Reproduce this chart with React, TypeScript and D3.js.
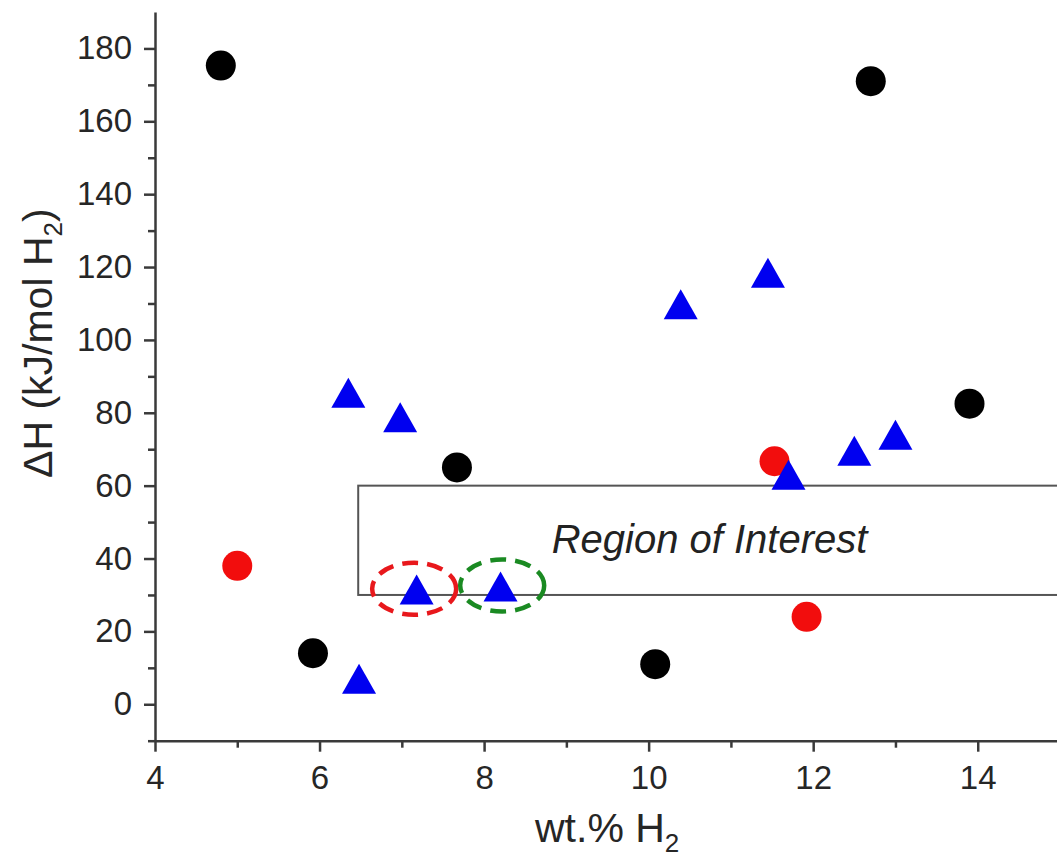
import React, { useEffect, useRef } from 'react'
import * as d3 from 'd3'

// wt.% H2 vs dH (kJ/mol H2)
const blackX = [4.8, 12.7, 13.9, 7.67, 5.92, 10.08]
const blackY = [175.3, 171, 82.5, 65, 14, 11]

const redX = [5.0, 11.53, 11.92]
const redY = [38, 66.7, 24]

const blueX = [6.35, 6.98, 10.39, 11.45, 11.7, 12.5, 13.0, 7.18, 8.2, 6.48]
const blueY = [85.5, 78.8, 109.8, 118.4, 63, 69.6, 74, 31.5, 32.3, 7]

const xTicks = [4, 6, 8, 10, 12, 14]
const yTicks = [0, 20, 40, 60, 80, 100, 120, 140, 160, 180]

// region of interest box
const regionX = [6.47, 15.3]
const regionY = [30, 60]

// dashed ellipses around the two marked triangles
const markX = [7.15, 8.22]
const markY = [31.7, 32.6]
const markColor = ['#e8181c', '#1a8a22']

const FONT = "'Liberation Sans', Arial, sans-serif"

export default function App() {
  const ref = useRef<SVGSVGElement>(null)

  useEffect(() => {
    const w = 1057
    const h = 857
    const left = 155, right = 1060, top = 12, bottom = 740.7

    const svg = d3.select(ref.current).attr('width', w).attr('height', h)
    svg.selectAll('*').remove()

    const x = d3.scaleLinear().domain([4, 15]).range([left, right])
    const y = d3.scaleLinear().domain([-10, 190]).range([bottom, top])

    const axisCol = '#3a3a3a'

    // x axis
    const xg = svg.append('g').attr('transform', `translate(0, ${bottom})`)
    xg.call(d3.axisBottom(x).tickValues(xTicks).tickSize(11).tickSizeOuter(0).tickPadding(14).tickFormat(d3.format('d')))
    const xm = svg.append('g').attr('transform', `translate(0, ${bottom})`)
    xm.call(d3.axisBottom(x).tickValues([5, 7, 9, 11, 13]).tickSize(7).tickFormat(() => ''))
    xm.select('.domain').remove()

    // y axis
    const yg = svg.append('g').attr('transform', `translate(${left}, 0)`)
    yg.call(d3.axisLeft(y).tickValues(yTicks).tickSize(11).tickSizeOuter(0).tickPadding(12).tickFormat(d3.format('d')))
    const ym = svg.append('g').attr('transform', `translate(${left}, 0)`)
    ym.call(d3.axisLeft(y).tickValues([-10, 10, 30, 50, 70, 90, 110, 130, 150, 170]).tickSize(7).tickFormat(() => ''))
    ym.select('.domain').remove()

    svg.selectAll('.domain').attr('stroke', axisCol).attr('stroke-width', 2.5)
    svg.selectAll('.tick line').attr('stroke', axisCol).attr('stroke-width', 2.5)
    svg.selectAll('.tick text').attr('font-family', FONT).attr('font-size', 33).attr('fill', '#262626')

    // axis titles
    const xt = svg.append('text').attr('x', 535).attr('y', 842)
      .attr('font-family', FONT).attr('font-size', 41).attr('fill', '#262626')
    xt.append('tspan').text('wt.% H')
    xt.append('tspan').attr('font-size', 26).attr('dy', 10).text('2')

    const yt = svg.append('text').attr('transform', 'translate(52, 478) rotate(-90)')
      .attr('font-family', FONT).attr('font-size', 41).attr('fill', '#262626')
    yt.append('tspan').text('\u0394H (kJ/mol H')
    yt.append('tspan').attr('font-size', 26).attr('dy', 10).text('2')
    yt.append('tspan').attr('dy', -10).text(')')

    // region box
    svg.append('rect')
      .attr('x', x(regionX[0])).attr('y', y(regionY[1]))
      .attr('width', x(regionX[1]) - x(regionX[0])).attr('height', y(regionY[0]) - y(regionY[1]))
      .attr('fill', 'none').attr('stroke', '#555').attr('stroke-width', 2)
    svg.append('text').attr('x', x(10.74)).attr('y', y(41.5)).attr('text-anchor', 'middle')
      .attr('font-family', FONT).attr('font-size', 40).attr('font-style', 'italic').attr('fill', '#222')
      .text('Region of Interest')

    // circles
    svg.append('g').selectAll('circle').data(d3.range(blackX.length)).join('circle')
      .attr('cx', i => x(blackX[i])).attr('cy', i => y(blackY[i])).attr('r', 15).attr('fill', '#000')
    svg.append('g').selectAll('circle').data(d3.range(redX.length)).join('circle')
      .attr('cx', i => x(redX[i])).attr('cy', i => y(redY[i])).attr('r', 15).attr('fill', '#f20d0d')

    // triangles
    svg.append('g').selectAll('path').data(d3.range(blueX.length)).join('path')
      .attr('d', 'M0,-15L17,15L-17,15Z')
      .attr('transform', i => `translate(${x(blueX[i])}, ${y(blueY[i])})`)
      .attr('fill', '#0000f0')

    // dashed ellipses
    svg.append('g').selectAll('ellipse').data(d3.range(markX.length)).join('ellipse')
      .attr('cx', i => x(markX[i])).attr('cy', i => y(markY[i])).attr('rx', 42).attr('ry', 26)
      .attr('fill', 'none').attr('stroke', i => markColor[i]).attr('stroke-width', 4.5)
      .attr('stroke-dasharray', '16 9')
  }, [])

  return (
    <div style={{ position: 'absolute', left: 0, top: 0, background: '#fff' }}>
      <svg ref={ref} style={{ display: 'block' }}></svg>
    </div>
  )
}
